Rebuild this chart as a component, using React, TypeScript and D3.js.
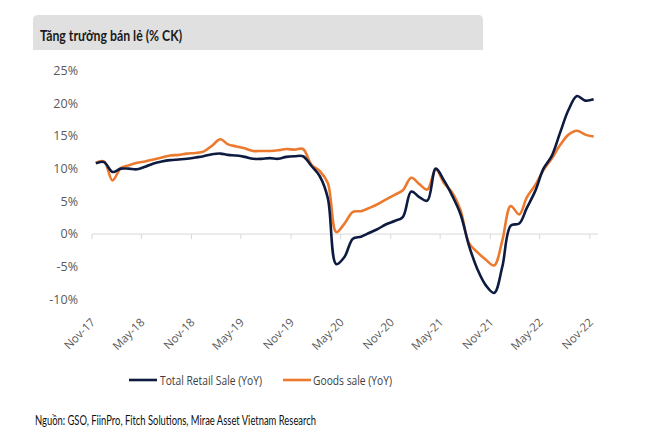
import React from "react";
import * as d3 from "d3";

const startMonth = new Date(2017, 10, 1); // Nov-17, monthly series through Nov-22
const totalRetail = [
  10.8, 11.0, 9.5, 10.0, 10.0, 9.9, 10.3, 10.8, 11.1, 11.3, 11.4, 11.5,
  11.7, 11.9, 12.2, 12.3, 12.1, 12.0, 11.8, 11.5, 11.5, 11.6, 11.5, 11.8,
  11.9, 11.9, 10.4, 8.8, 5.5, -4.6, -3.5, -0.7, -0.4, 0.2, 0.8, 1.5,
  2.0, 2.6, 6.5, 5.6, 5.1, 10.0, 8.2, 5.8, 3.0, -1.8, -5.4, -7.8,
  -9.0, -5.0, 1.3, 1.6, 4.0, 6.6, 10.0, 12.0, 15.5, 19.0, 21.1, 20.4, 20.6,
];
const goodsSale = [
  10.9, 11.1, 8.2, 10.1, 10.5, 10.9, 11.1, 11.4, 11.7, 12.0, 12.1, 12.3,
  12.4, 12.6, 13.5, 14.5, 13.7, 13.4, 13.1, 12.7, 12.7, 12.7, 12.8, 13.0,
  12.9, 13.0, 10.6, 9.6, 7.8, 0.3, 1.6, 3.4, 3.5, 4.0, 4.6, 5.3,
  6.0, 6.7, 8.6, 7.6, 6.8, 9.9, 7.8, 6.3, 3.6, -1.4, -2.8, -3.9,
  -4.8, -1.0, 4.3, 3.0, 5.6, 7.5, 9.8, 11.6, 13.6, 15.2, 15.8, 15.2, 14.9,
];
const yTicks = [-10, -5, 0, 5, 10, 15, 20, 25];
const xTickLabels = ["Nov-17", "May-18", "Nov-18", "May-19", "Nov-19", "May-20", "Nov-20", "May-21", "Nov-21", "May-22", "Nov-22"];
const seriesNames = ["Total Retail Sale (YoY)", "Goods sale (YoY)"];
const title = "Tăng trưởng bán lẻ (% CK)";
const source = "Nguồn: GSO, FiinPro, Fitch Solutions, Mirae Asset Vietnam Research";

const NAVY = "#0d1b40";
const ORANGE = "#ec7a2e";
const TXT = "#595959";

export default function App() {
  const months = totalRetail.map((_, i) => d3.timeMonth.offset(startMonth, i));
  const x = d3
    .scaleTime()
    .domain([startMonth, d3.timeMonth.offset(startMonth, totalRetail.length)])
    .range([92, 598]);
  const y = d3.scaleLinear().domain([-10, 25]).range([299.5, 70.5]);
  const mid = (m: Date) => x(d3.timeDay.offset(m, 14));

  const line = d3
    .line<number>()
    .x((_, i) => mid(months[i]))
    .y((v) => y(v))
    .curve(d3.curveCatmullRom.alpha(0.5));

  const tickMonths = xTickLabels.map((_, i) => months[i * 6]);
  const fmt = d3.timeFormat("%b-%y");

  return (
    <svg width={670} height={433} style={{ position: "absolute", left: 0, top: 0, background: "#fff" }}>
      <path d="M33,50 V20 Q33,15 38,15 H478 Q483,15 483,20 V50 Z" fill="#e0e0e0" />
      <text x={40} y={41} fontFamily="Lato, 'Open Sans', sans-serif" fontWeight="bold" fontSize={15.5} fill="#1a1a1a" textLength={142} lengthAdjust="spacingAndGlyphs">
        {title}
      </text>

      {yTicks.map((t) => (
        <text key={t} x={78} y={y(t)} dy="0.35em" textAnchor="end" fontFamily="'Open Sans', sans-serif" fontSize={12.5} fill={TXT}>
          {t}%
        </text>
      ))}

      <line x1={92} x2={598} y1={y(0)} y2={y(0)} stroke="#d9d9d9" strokeWidth={1} />
      {tickMonths.map((m, i) => (
        <g key={i}>
          <line x1={x(m)} x2={x(m)} y1={y(0)} y2={y(0) + 5} stroke="#d9d9d9" strokeWidth={1} />
          <text
            transform={`translate(${x(m) + 4},323) rotate(-45)`}
            textAnchor="end"
            fontFamily="'Open Sans', sans-serif"
            fontSize={11.5}
            fill={TXT}
          >
            {fmt(m)}
          </text>
        </g>
      ))}

      <path d={line(goodsSale) || ""} fill="none" stroke={ORANGE} strokeWidth={2.6} strokeLinejoin="round" />
      <path d={line(totalRetail) || ""} fill="none" stroke={NAVY} strokeWidth={2.6} strokeLinejoin="round" />

      <line x1={129} x2={157} y1={380} y2={380} stroke={NAVY} strokeWidth={2.6} />
      <text x={160} y={380} dy="0.35em" fontFamily="'Open Sans', sans-serif" fontSize={13} fill="#404040" textLength={102} lengthAdjust="spacingAndGlyphs">
        {seriesNames[0]}
      </text>
      <line x1={283} x2={311} y1={380} y2={380} stroke={ORANGE} strokeWidth={2.6} />
      <text x={313} y={380} dy="0.35em" fontFamily="'Open Sans', sans-serif" fontSize={13} fill="#404040" textLength={79} lengthAdjust="spacingAndGlyphs">
        {seriesNames[1]}
      </text>

      <text x={35} y={425} fontFamily="Lato, 'Open Sans', sans-serif" fontSize={12.5} fill="#111" textLength={281} lengthAdjust="spacingAndGlyphs">
        {source}
      </text>
    </svg>
  );
}
